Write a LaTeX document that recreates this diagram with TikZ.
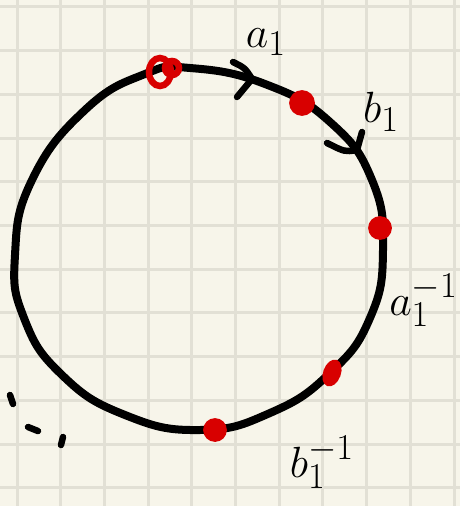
\documentclass[tikz,border=0pt]{standalone}
\usepackage{tikz}
\usetikzlibrary{arrows.meta,calc,positioning}
\definecolor{paper}{HTML}{F7F5EA}
\definecolor{gridline}{HTML}{E2E0D5}
\definecolor{ink}{HTML}{000000}
\definecolor{marker}{HTML}{D80000}

\begin{document}
\begin{tikzpicture}[x=0.02cm,y=-0.02cm,
    pen/.style={draw=ink, line width=0.16cm, line cap=round, line join=round},
    thinpen/.style={draw=ink, line width=0.13cm, line cap=round, line join=round},
    dot/.style={fill=marker, draw=marker, line width=1pt},
    ring/.style={draw=marker, line width=0.13cm},
    lbl/.style={text=ink, inner sep=0pt, font=\fontsize{32}{32}\selectfont}
  ]
  % paper and grid
  \fill[paper] (0,0) rectangle (460,506);
  \useasboundingbox (0,0) rectangle (460,506);
  \foreach \i in {0,...,10}
    \draw[gridline, line width=0.06cm] ({17+43.7*\i},0) -- ({17+43.7*\i},506);
  \foreach \j in {0,...,11}
    \draw[gridline, line width=0.06cm] (0,{7+43.7*\j}) -- (460,{7+43.7*\j});

  % the loop
  \draw[pen] plot[smooth cycle, tension=0.8] coordinates {
    (190,68) (265,84) (330,122) (372,180)
    (383,250) (370,318) (330,373) (270,413)
    (200,430) (125,415) (62,375) (24,318)
    (15,255) (32,180) (85,110) (145,74)};

  % marked points
  \coordinate (p0) at (160,72);
  \coordinate (p1) at (302,103);
  \coordinate (p2) at (380,228);
  \coordinate (p3) at (332,373);
  \coordinate (p4) at (215,430);
  \draw[ring] (p0) ellipse [x radius=11, y radius=14];
  \draw[ring] ($(p0)+(12,-4)$) circle [radius=7];
  \fill[dot] (p1) circle [radius=12];
  \fill[dot] (p2) circle [radius=11];
  \fill[dot, rotate around={-20:(p3)}] (p3) ellipse [x radius=8, y radius=13];
  \fill[dot] (p4) circle [radius=11];

  % direction marks
  \draw[thinpen] (233,62) .. controls (245,68) .. (252,79) -- (237,97);
  \draw[thinpen] (327,143) .. controls (345,152) .. (357,150) -- (362,132);

  % labels
  \node[lbl] (a1) at (266,42) {$a_1$};
  \node[lbl] (b1) at (381,112) {$b_1$};
  \node[lbl, anchor=east, font=\fontsize{28}{28}\selectfont] (a1inv) at (458,300) {$a_1^{-1}$};
  \node[lbl] (b1inv) at (322,462) {$b_1^{-1}$};

  % continuation
  \draw[thinpen] (10,395) -- (13,404);
  \draw[thinpen] (28,427) -- (38,431);
  \draw[thinpen] (63,437) -- (61,445);
\end{tikzpicture}
\end{document}
